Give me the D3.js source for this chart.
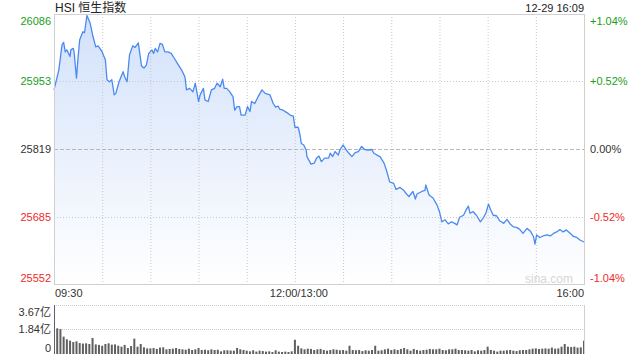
<!DOCTYPE html>
<html>
<head>
<meta charset="utf-8">
<script src="https://cdn.jsdelivr.net/npm/d3@7/dist/d3.min.js"></script>
<style>
  body { margin: 0; background: #fff; }
  svg { display: block; font-family: "Liberation Sans", Arial, "Noto Sans CJK SC", sans-serif; }
</style>
</head>
<body>
<div id="chart"></div>
<script>
// HSI intraday, minutes counted from 09:30 with the lunch break removed
var prevClose = 25819;
var priceTicks = [26086, 25953, 25819, 25685, 25552];
var pctTicks = ['+1.04%', '+0.52%', '0.00%', '-0.52%', '-1.04%'];
var timeTicks = [0, 150, 330];
var timeLabels = ['09:30', '12:00/13:00', '16:00'];
var volTicks = [3.67, 1.84, 0];
var volLabels = ['3.67亿', '1.84亿', '0'];

var lineMinutes = [0, 3, 5, 6, 7, 8, 10, 10.5, 12, 12.5, 14, 15, 16, 18, 19, 20.5, 22.5, 24, 26, 27.5,
  30, 32, 33, 34.5, 36, 37.5, 38.5, 40.5, 43, 44, 45.5, 47, 49, 50.5, 52.5, 54.5, 56, 57.5, 59, 61,
  62, 63, 64.5, 66, 67.5, 69, 71, 73, 75, 77.5, 79.5, 81.5, 82.5, 84.5, 86.5, 88, 90, 91, 93, 94,
  96, 98, 100, 101.5, 103.5, 105, 106, 107.5, 109.5, 111.5, 112.5, 114, 115.5, 116.5, 119, 120.5, 122, 123, 125, 127,
  129.5, 131.5, 134.5, 136.5, 138, 139.5, 140.5, 142.5, 144, 145.5, 147, 149, 150, 152, 153, 154, 155.5, 157, 157.5, 160,
  162, 163.5, 165, 166.5, 168.5, 171, 172, 173.5, 175, 177, 178, 180, 182, 183.5, 185.5, 187.5, 189.5, 191.5, 193.5, 195.5,
  198, 199, 201, 203, 205.5, 207, 209, 211.5, 213, 215.5, 217.5, 219.5, 221, 223.5, 225, 226, 229, 231, 231.5, 233.5,
  236, 238.5, 240, 241.5, 243.5, 245.5, 247.5, 249.5, 251, 252.5, 255, 256.5, 258, 259, 261, 263, 265.5, 267.5, 269, 270.5,
  272, 273.5, 275.5, 277.5, 280, 282, 284.5, 286, 288, 290, 292, 294.5, 296.5, 298.5, 299.5, 300.5, 302.5, 304.5, 307, 309,
  311, 313, 315, 317, 319, 321.5, 323.5, 325.5, 327.5, 330];
var linePrices = [25936, 25975, 26025, 26030, 26011, 26015, 26002, 26015, 26018, 26011, 25959, 26001, 26035, 26051, 26049, 26083, 26068, 26045, 26021, 26023,
  26011, 25995, 25956, 25952, 25956, 25926, 25929, 25952, 25972, 25962, 25952, 26005, 26023, 26020, 26029, 25983, 25979, 25985, 26008, 26015,
  26008, 26018, 26011, 26028, 26026, 26011, 26011, 26008, 25998, 25985, 25975, 25962, 25936, 25939, 25932, 25949, 25913, 25926, 25939, 25916,
  25913, 25936, 25939, 25949, 25942, 25957, 25939, 25939, 25932, 25922, 25896, 25903, 25903, 25886, 25886, 25903, 25893, 25913, 25909, 25922,
  25936, 25929, 25926, 25909, 25902, 25904, 25898, 25896, 25893, 25890, 25886, 25884, 25862, 25862, 25850, 25830, 25827, 25817, 25804, 25789,
  25791, 25801, 25805, 25794, 25801, 25801, 25811, 25804, 25814, 25807, 25817, 25827, 25817, 25811, 25804, 25812, 25814, 25824, 25818, 25817,
  25818, 25811, 25807, 25804, 25791, 25777, 25754, 25751, 25739, 25743, 25738, 25730, 25725, 25735, 25720, 25730, 25735, 25737, 25748, 25728,
  25722, 25708, 25695, 25675, 25679, 25671, 25675, 25672, 25669, 25684, 25688, 25698, 25706, 25692, 25695, 25688, 25675, 25684, 25693, 25710,
  25698, 25688, 25687, 25677, 25672, 25680, 25669, 25665, 25664, 25660, 25652, 25662, 25657, 25646, 25631, 25649, 25644, 25647, 25649, 25647,
  25652, 25655, 25660, 25655, 25659, 25652, 25646, 25644, 25639, 25635];

// volume (亿) per 2-minute slot from 09:30
var volumes = [3.67, 1.92, 1.86, 1.3, 1.1, 1.0, 0.9, 0.95, 0.82, 0.78, 0.8, 0.75, 1.2, 0.72, 0.68, 0.62, 0.75, 0.8, 0.7, 0.72,
  0.62, 0.55, 0.68, 0.45, 0.6, 1.15, 0.55, 0.75, 0.5, 0.42, 0.42, 0.45, 0.38, 0.48, 0.5, 0.35, 0.38, 0.4, 0.45, 0.38,
  0.35, 0.32, 0.4, 0.3, 0.35, 0.45, 0.3, 0.32, 0.28, 0.35, 0.3, 0.32, 0.2, 0.28, 0.28, 0.26, 0.25, 0.45, 0.35, 0.3,
  0.25, 0.2, 0.28, 0.18, 0.25, 0.22, 0.18, 0.2, 0.15, 0.28, 0.18, 0.15, 0.18, 0.15, 0.2, 1.07, 0.62, 0.42, 0.35, 0.4,
  0.38, 0.3, 0.35, 0.38, 0.3, 0.25, 0.3, 0.35, 0.32, 0.28, 0.3, 0.25, 0.62, 0.3, 0.28, 0.3, 0.22, 0.28, 0.25, 0.3,
  0.62, 0.25, 0.28, 0.35, 0.4, 0.3, 0.35, 0.3, 0.38, 0.45, 0.35, 0.25, 0.38, 0.3, 0.25, 0.3, 0.32, 0.38, 0.35, 0.35,
  0.4, 0.3, 0.28, 0.35, 0.35, 0.4, 0.3, 0.3, 0.28, 0.25, 0.3, 0.2, 0.28, 0.25, 0.3, 0.55, 0.3, 0.25, 0.18, 0.25,
  0.25, 0.28, 0.3, 0.25, 0.22, 0.28, 0.3, 0.3, 0.35, 0.4, 0.42, 0.38, 0.4, 0.42, 0.4, 0.48, 0.4, 0.42, 0.55, 0.75,
  0.55, 0.52, 0.55, 0.48, 0.5, 1.0];

(function () {
  var width = 640,
      height = 360,
      plot = {left: 54, right: 584, top: 14, bottom: 284},
      volBox = {top: 305, bottom: 354},
      GREEN = '#1a9e1a',
      RED = '#ee2a2a',
      DARK = '#333',
      GRID = '#c8c8c8',
      LINE = '#4a8af0';

  var svg = d3.select('#chart').append('svg')
      .attr('width', width)
      .attr('height', height);

  var x = d3.scaleLinear().domain([0, 330]).range([plot.left, plot.right]),
      y = d3.scaleLinear().domain([25552, 26086]).range([plot.bottom, plot.top]),
      yVol = d3.scaleLinear().domain([0, 3.67]).range([volBox.bottom, volBox.top]);

  function tickColor(v) {
    if (v > prevClose) return GREEN;
    if (v < prevClose) return RED;
    return DARK;
  }

  // gradient under the line
  var grad = svg.append('defs').append('linearGradient')
      .attr('id', 'areaFill')
      .attr('gradientUnits', 'userSpaceOnUse')
      .attr('x1', 0).attr('x2', 0)
      .attr('y1', plot.top).attr('y2', plot.bottom);
  grad.append('stop').attr('offset', '0%').attr('stop-color', '#d2e1fa');
  grad.append('stop').attr('offset', '100%').attr('stop-color', '#ffffff');

  svg.select('defs').append('clipPath').attr('id', 'volClip')
    .append('rect')
      .attr('x', plot.left).attr('y', volBox.top - 2)
      .attr('width', plot.right - plot.left).attr('height', volBox.bottom - volBox.top + 2);

  var points = lineMinutes.map(function (m, i) { return [m, linePrices[i]]; });

  // area + line
  svg.append('path')
    .datum(points)
    .attr('fill', 'url(#areaFill)')
    .attr('d', d3.area()
      .x(function (d) { return x(d[0]); })
      .y0(plot.bottom)
      .y1(function (d) { return y(d[1]); }));

  // vertical grid every 30 minutes
  svg.append('g').selectAll('line')
    .data(d3.range(30, 330, 30))
    .enter().append('line')
      .attr('x1', function (d) { return x(d) + 0.5; })
      .attr('x2', function (d) { return x(d) + 0.5; })
      .attr('y1', plot.top)
      .attr('y2', plot.bottom)
      .attr('stroke', GRID)
      .attr('stroke-dasharray', '1,2');

  // horizontal grid
  svg.append('g').selectAll('line')
    .data(priceTicks.slice(1, 4))
    .enter().append('line')
      .attr('x1', plot.left)
      .attr('x2', plot.right)
      .attr('y1', function (d) { return Math.round(y(d)) + 0.5; })
      .attr('y2', function (d) { return Math.round(y(d)) + 0.5; })
      .attr('stroke', function (d) { return d === prevClose ? '#b8b8b8' : GRID; })
      .attr('stroke-dasharray', function (d) { return d === prevClose ? '4,2' : '1,2'; });

  svg.append('path')
    .datum(points)
    .attr('fill', 'none')
    .attr('stroke', LINE)
    .attr('stroke-width', 1.3)
    .attr('stroke-linejoin', 'round')
    .attr('d', d3.line()
      .x(function (d) { return x(d[0]); })
      .y(function (d) { return y(d[1]); }));

  // frame
  svg.append('rect')
    .attr('x', plot.left + 0.5).attr('y', plot.top + 0.5)
    .attr('width', plot.right - plot.left).attr('height', plot.bottom - plot.top)
    .attr('fill', 'none')
    .attr('stroke', '#d0d0d0');

  // watermark
  svg.append('text')
    .attr('x', 573).attr('y', 283)
    .attr('text-anchor', 'end')
    .attr('font-size', 12)
    .attr('fill', '#d6d6d6')
    .text('sina.com');

  // left price labels
  svg.append('g').selectAll('text')
    .data(priceTicks)
    .enter().append('text')
      .attr('x', plot.left - 3)
      .attr('y', function (d, i) {
        var py = y(d);
        if (i === 0) py += 7;
        if (i === priceTicks.length - 1) py -= 6;
        return py + 4;
      })
      .attr('text-anchor', 'end')
      .attr('font-size', 11)
      .attr('fill', tickColor)
      .text(function (d) { return d; });

  // right percentage labels
  svg.append('g').selectAll('text')
    .data(pctTicks)
    .enter().append('text')
      .attr('x', plot.right + 6)
      .attr('y', function (d, i) {
        var py = y(priceTicks[i]);
        if (i === 0) py += 7;
        if (i === pctTicks.length - 1) py -= 6;
        return py + 4;
      })
      .attr('text-anchor', 'start')
      .attr('font-size', 11)
      .attr('fill', function (d, i) { return tickColor(priceTicks[i]); })
      .text(function (d) { return d; });

  // time labels
  svg.append('g').selectAll('text')
    .data(timeTicks)
    .enter().append('text')
      .attr('x', function (d, i) {
        if (i === 0) return x(d) + 1;
        if (i === timeTicks.length - 1) return x(d);
        return x(d) + 4;
      })
      .attr('y', 297)
      .attr('text-anchor', function (d, i) {
        if (i === 0) return 'start';
        if (i === timeTicks.length - 1) return 'end';
        return 'middle';
      })
      .attr('font-size', 11)
      .attr('fill', DARK)
      .text(function (d, i) { return timeLabels[i]; });

  // title + timestamp
  svg.append('text')
    .attr('x', plot.left + 1).attr('y', 12)
    .attr('font-size', 12)
    .attr('fill', '#222')
    .text('HSI 恒生指数');

  svg.append('text')
    .attr('x', plot.right).attr('y', 12)
    .attr('text-anchor', 'end')
    .attr('font-size', 11)
    .attr('fill', '#222')
    .text('12-29 16:09');

  // volume panel
  svg.append('g').selectAll('line')
    .data(volTicks.slice(0, 2))
    .enter().append('line')
      .attr('x1', plot.left)
      .attr('x2', plot.right)
      .attr('y1', function (d) { return Math.round(yVol(d)) + 0.5; })
      .attr('y2', function (d) { return Math.round(yVol(d)) + 0.5; })
      .attr('stroke', GRID)
      .attr('stroke-dasharray', '1,1');

  svg.append('line')
    .attr('x1', plot.right + 0.5).attr('x2', plot.right + 0.5)
    .attr('y1', volBox.top).attr('y2', volBox.bottom)
    .attr('stroke', '#d0d0d0');

  svg.append('g')
    .attr('clip-path', 'url(#volClip)')
    .selectAll('rect')
    .data(volumes)
    .enter().append('rect')
      .attr('x', function (d, i) { return x(i * 2) - 1; })
      .attr('width', 2)
      .attr('y', function (d) { return yVol(d); })
      .attr('height', function (d) { return volBox.bottom - yVol(d); })
      .attr('fill', '#606060');

  svg.append('g').selectAll('text')
    .data(volTicks)
    .enter().append('text')
      .attr('x', plot.left - 3)
      .attr('y', function (d, i) {
        var py = yVol(d);
        if (i === 0) py += 7;
        if (i === volTicks.length - 1) py -= 6;
        return py + 4;
      })
      .attr('text-anchor', 'end')
      .attr('font-size', 11)
      .attr('fill', DARK)
      .text(function (d, i) { return volLabels[i]; });
})();
</script>
</body>
</html>
